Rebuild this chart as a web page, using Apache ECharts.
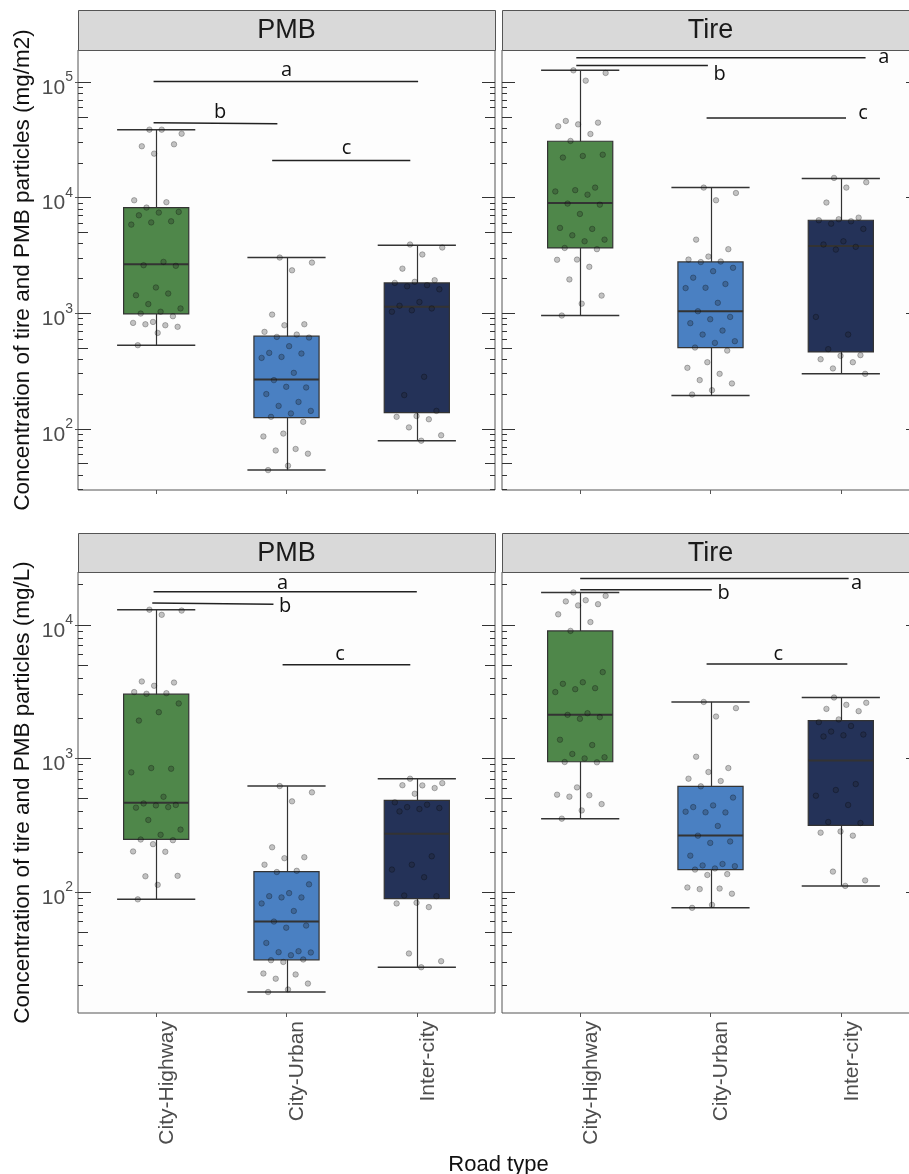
<!DOCTYPE html>
<html><head><meta charset="utf-8">
<script src="https://cdn.jsdelivr.net/npm/echarts@6/dist/echarts.min.js"></script>
<style>html,body{margin:0;padding:0;background:#fff}#c{width:909px;height:1174px}</style>
</head><body><div id="c"></div><script>
// ---------- data ----------
const categories = ['City-Highway', 'City-Urban', 'Inter-city'];
const facets = ['PMB', 'Tire'];
const xTitle = 'Road type';
const yTitleTop = 'Concentration of tire and PMB particles (mg/m2)';
const yTitleBottom = 'Concentration of tire and PMB particles (mg/L)';
const topTickValues = [100, 1000, 10000, 100000];
const bottomTickValues = [100, 1000, 10000];
const sigLetters = ['a', 'b', 'c'];

// box statistics per category: [lower whisker, Q1, median, Q3, upper whisker]
const boxM2PMB  = [[529, 987, 2650, 8200, 38700], [44, 125, 267, 633, 3030], [79, 138, 1135, 1830, 3870]];
const boxM2Tire = [[955, 3670, 8990, 30700, 126000], [194, 505, 1040, 2780, 12200], [299, 463, 3820, 6370, 14600]];
const boxLPMB   = [[88, 248, 466, 3030, 13000], [17.8, 31, 60, 142, 621], [27.3, 89, 273, 485, 705]];
const boxLTire  = [[354, 944, 2120, 9020, 17500], [76, 147, 265, 618, 2650], [111, 315, 966, 1920, 2860]];

// individual observations
const ptsM2PMBHighway = [38700,35700,38700,27800,28900,24000,9480,9120,8200,7520,7420,7030,6240,6100,5840,2780,2600,2570,1670,1430,1480,1200,1100,1030,993,942,841,825,787,803,763,676,529];
const ptsM2PMBUrban   = [3030,2740,2350,973,803,787,690,654,624,616,519,454,448,419,411,305,264,228,231,200,171,158,143,136,127,115,91,86,67,65,61,48,44];
const ptsM2PMBInter   = [3930,3700,3220,2430,1930,1870,1830,1750,1710,1610,1250,1160,1100,1060,1030,282,196,143,129,127,121,103,88,79];
const ptsM2TireHighway = [126000,119700,102700,46000,44500,43000,41400,35500,30900,23500,22900,22200,12200,11600,11300,10600,8870,8690,7220,5470,5360,4720,4330,4190,3670,3580,2910,2900,2520,1960,1420,1210,955];
const ptsM2TireUrban   = [12200,10960,9480,4330,3580,3090,2910,2800,2770,2470,2310,2030,1790,1660,1650,1230,1040,929,887,820,708,654,573,554,505,475,377,337,299,264,247,216,198];
const ptsM2TireInter   = [14800,13580,12200,9060,6710,6500,6370,6240,5950,5360,4190,3930,3750,3550,929,654,489,434,428,400,377,333,299];
const ptsLPMBHighway = [13000,12800,11900,3770,3700,3500,3140,3080,3050,2580,2220,1920,837,847,786,516,460,448,445,428,432,346,293,268,247,244,228,201,200,131,132,113,88];
const ptsLPMBUrban   = [621,557,477,216,182,179,160,144,141,114,98,93,91,91,82,72,60,56,54,41.5,36,35.4,35.2,33.6,30.8,31.2,29.9,24.5,24.1,22.4,20.6,18.6,17.8];
const ptsLPMBInter   = [705,653,628,630,600,544,469,450,432,425,418,401,185,160,147,129,94,93,83,82,77,34.6,30.3,27.3];
const ptsLTireHighway = [17500,16500,15300,15000,14300,14000,12000,10500,9020,4430,3720,3620,3360,3300,3140,2180,2120,2040,1980,1380,1260,1080,1020,1000,940,935,607,535,530,517,455,408,354];
const ptsLTireUrban   = [2650,2380,2060,1030,847,791,705,677,618,509,445,432,394,395,399,312,264,239,233,187,162,158,156,150,147,136,134,108,106,105,97,80,76];
const ptsLTireInter   = [2860,2610,2520,2350,2260,1960,1870,1750,1590,1510,1490,1460,643,580,526,448,334,328,284,278,264,142,122,111];

// significance lines: [x1, y1, x2, y2, labelX, labelY] (x in category units), letters a, b, c
const bracketsM2PMB  = [[-0.02,101000,2.01,101000,1.0,127000], [-0.02,44500,0.93,43600,0.49,55000], [0.89,20900,1.95,20900,1.46,26800]];
const bracketsM2Tire = [[-0.03,162000,2.19,162000,2.33,164000], [-0.03,139000,0.98,139000,1.07,117000], [0.97,48900,2.04,48900,2.17,54000]];
const bracketsLPMB   = [[-0.02,17700,2.0,17700,0.97,20600], [-0.03,14600,0.9,14300,0.99,13900], [0.97,5020,1.95,5020,1.41,6070]];
const bracketsLTire  = [[0.0,22300,2.06,22300,2.12,20600], [0.0,18300,1.01,18300,1.10,17300], [0.97,5100,2.05,5100,1.52,6070]];

// ---------- styling / layout ----------
const boxColors = ['#4f874a', '#4a80c2', '#243258'];
const panelRange = [[29.6, 189000], [29.6, 189000], [12.4, 24900], [12.4, 24900]];
const grids = [
  {left: 78, top: 50, width: 417, height: 440},
  {left: 502, top: 50, width: 417, height: 440},
  {left: 78, top: 572, width: 417, height: 441},
  {left: 502, top: 572, width: 417, height: 441}
];
const panels = [
  {box: boxM2PMB, pts: [ptsM2PMBHighway, ptsM2PMBUrban, ptsM2PMBInter], br: bracketsM2PMB, facet: 0},
  {box: boxM2Tire, pts: [ptsM2TireHighway, ptsM2TireUrban, ptsM2TireInter], br: bracketsM2Tire, facet: 1},
  {box: boxLPMB, pts: [ptsLPMBHighway, ptsLPMBUrban, ptsLPMBInter], br: bracketsLPMB, facet: 0},
  {box: boxLTire, pts: [ptsLTireHighway, ptsLTireUrban, ptsLTireInter], br: bracketsLTire, facet: 1}
];
const frame = '#555555';
const ink = '#333333';

// deterministic horizontal jitter (position only)
function jitter(i) { return (((i * 0.6180339887 + 0.37) % 1) - 0.5) * 0.4; }

// log-tick positions (1..9 x 10^d) inside a range, split by tick kind
function logTickSets(lo, hi) {
  const sets = [[], [], []];
  for (let d = Math.floor(Math.log10(lo)); d <= Math.ceil(Math.log10(hi)); d++) {
    for (let m = 1; m <= 9; m++) {
      const v = m * Math.pow(10, d);
      if (v >= lo && v <= hi) sets[m === 1 ? 0 : (m === 5 ? 1 : 2)].push(v);
    }
  }
  return sets;
}
const tickLens = [13, 10, 5];

const xAxes = [], yAxes = [], series = [], graphics = [];
panels.forEach((p, gi) => {
  const isBottom = gi >= 2, isLeft = gi % 2 === 0;
  const ticks = isBottom ? bottomTickValues : topTickValues;
  const lo = panelRange[gi][0], hi = panelRange[gi][1];
  xAxes.push({
    gridIndex: gi, type: 'value', min: -0.6, max: 2.6,
    axisLine: {show: false, onZero: false}, splitLine: {show: false},
    axisTick: {show: true, customValues: [0, 1, 2], length: 4, lineStyle: {color: frame}},
    axisLabel: {show: isBottom, customValues: [0, 1, 2], rotate: 90, margin: 8,
      verticalAlign: 'top', lineHeight: 22,
      formatter: v => categories[Math.round(v)] || '',
      fontFamily: 'Liberation Sans', fontSize: 21, color: '#4d4d4d'}
  });
  const yIndex = yAxes.length;
  yAxes.push({
    gridIndex: gi, type: 'log', logBase: 10, min: lo, max: hi, position: 'left',
    axisLine: {show: false, onZero: false}, splitLine: {show: false}, minorTick: {show: false},
    axisTick: {show: isLeft, customValues: ticks, length: 3, lineStyle: {color: frame}},
    axisLabel: {show: isLeft, customValues: ticks, margin: 5, padding: [5, 0, 0, 0],
      formatter: v => '{b|10}{s|' + Math.round(Math.log10(v)) + '}',
      rich: {
        b: {fontFamily: 'Liberation Sans', fontSize: 21, color: '#4d4d4d', lineHeight: 28, verticalAlign: 'bottom'},
        s: {fontFamily: 'Liberation Sans', fontSize: 14, color: '#4d4d4d', lineHeight: 14, verticalAlign: 'top'}
      }},
    name: isLeft ? (isBottom ? yTitleBottom : yTitleTop) : '',
    nameLocation: 'middle', nameGap: 44,
    nameTextStyle: {fontFamily: 'Liberation Sans', fontSize: 22.5, color: '#111'}
  });
  // inner log ticks on both sides, drawn by extra overlaid log axes
  const sets = logTickSets(lo, hi);
  ['left', 'right'].forEach(pos => sets.forEach((vals, k) => {
    yAxes.push({
      gridIndex: gi, type: 'log', logBase: 10, min: lo, max: hi, position: pos, offset: 0,
      axisLine: {show: false, onZero: false}, splitLine: {show: false}, minorTick: {show: false},
      axisLabel: {show: false},
      axisTick: {show: true, inside: true, customValues: vals, length: tickLens[k], lineStyle: {color: ink, width: 1}}
    });
  }));

  // boxes
  series.push({
    type: 'custom', xAxisIndex: gi, yAxisIndex: yIndex, z: 2,
    data: p.box.map((s, i) => [i, s[0], s[1], s[2], s[3], s[4]]),
    encode: {x: 0, y: [1, 2, 3, 4, 5]},
    renderItem(params, api) {
      const i = api.value(0);
      const c = v => api.coord([i, v]);
      const xl = api.coord([i - 0.25, api.value(3)])[0], xr = api.coord([i + 0.25, api.value(3)])[0];
      const cl = api.coord([i - 0.3, api.value(3)])[0], cr = api.coord([i + 0.3, api.value(3)])[0];
      const lo = c(api.value(1)), q1 = c(api.value(2)), md = c(api.value(3)), q3 = c(api.value(4)), hi = c(api.value(5));
      const xm = Math.round(lo[0]) + 0.5;
      return {type: 'group', children: [
        {type: 'line', shape: {x1: xm, y1: lo[1], x2: xm, y2: hi[1]}, style: {stroke: ink, lineWidth: 1.2}},
        {type: 'line', shape: {x1: cl, y1: lo[1], x2: cr, y2: lo[1]}, style: {stroke: ink, lineWidth: 1.5}},
        {type: 'line', shape: {x1: cl, y1: hi[1], x2: cr, y2: hi[1]}, style: {stroke: ink, lineWidth: 1.5}},
        {type: 'rect', shape: {x: xl, y: q3[1], width: xr - xl, height: q1[1] - q3[1]},
          style: {fill: boxColors[i], stroke: ink, lineWidth: 1.2}},
        {type: 'line', shape: {x1: xl, y1: md[1], x2: xr, y2: md[1]}, style: {stroke: ink, lineWidth: 2}}
      ]};
    }
  });

  // jittered points
  const pdata = [];
  p.pts.forEach((arr, ci) => arr.forEach((v, k) => pdata.push([ci + jitter(k), v])));
  series.push({
    type: 'scatter', xAxisIndex: gi, yAxisIndex: yIndex, z: 3, symbolSize: 5.5, silent: true,
    data: pdata,
    itemStyle: {color: 'rgba(30,30,30,0.33)', borderColor: 'rgba(0,0,0,0.4)', borderWidth: 0.8}
  });

  // significance lines + letters
  series.push({
    type: 'custom', xAxisIndex: gi, yAxisIndex: yIndex, z: 6, silent: true,
    data: p.br.map((b, k) => [b[0], b[1], b[2], b[3], b[4], b[5], k]),
    encode: {x: [0, 2, 4], y: [1, 3, 5]},
    renderItem(params, api) {
      const a = api.coord([api.value(0), api.value(1)]);
      const b = api.coord([api.value(2), api.value(3)]);
      const t = api.coord([api.value(4), api.value(5)]);
      return {type: 'group', children: [
        {type: 'line', shape: {x1: a[0], y1: a[1], x2: b[0], y2: b[1]}, style: {stroke: '#222', lineWidth: 1.5}},
        {type: 'text', x: t[0], y: t[1], style: {text: sigLetters[api.value(6)], fill: '#111',
          font: '20px "Open Sans"', textAlign: 'center', textVerticalAlign: 'middle'}}
      ]};
    }
  });

  // facet strip
  const g = grids[gi];
  const stripTop = isBottom ? 533 : 10;
  const stripH = g.top - stripTop;
  graphics.push({type: 'rect', shape: {x: g.left + 0.5, y: stripTop + 0.5, width: g.width, height: stripH},
    style: {fill: '#d9d9d9', stroke: frame, lineWidth: 1}, z: 10});
  graphics.push({type: 'text', x: g.left + g.width / 2, y: stripTop + stripH / 2 + 1,
    style: {text: facets[p.facet], font: '27px "Liberation Sans"', fill: '#1a1a1a', textAlign: 'center', textVerticalAlign: 'middle'}, z: 11});
});

graphics.push({type: 'text', x: 498.5, y: 1165,
  style: {text: xTitle, font: '22px "Liberation Sans"', fill: '#111', textAlign: 'center', textVerticalAlign: 'middle'}, z: 11});

const chart = echarts.init(document.getElementById('c'), null, {renderer: 'canvas'});
chart.setOption({
  animation: false,
  backgroundColor: '#ffffff',
  grid: grids.map(g => Object.assign({show: true, backgroundColor: '#fdfdfd', borderColor: frame, borderWidth: 1,
    containLabel: false, outerBoundsMode: 'none'}, g)),
  xAxis: xAxes,
  yAxis: yAxes,
  series: series,
  graphic: graphics
});
</script></body></html>
